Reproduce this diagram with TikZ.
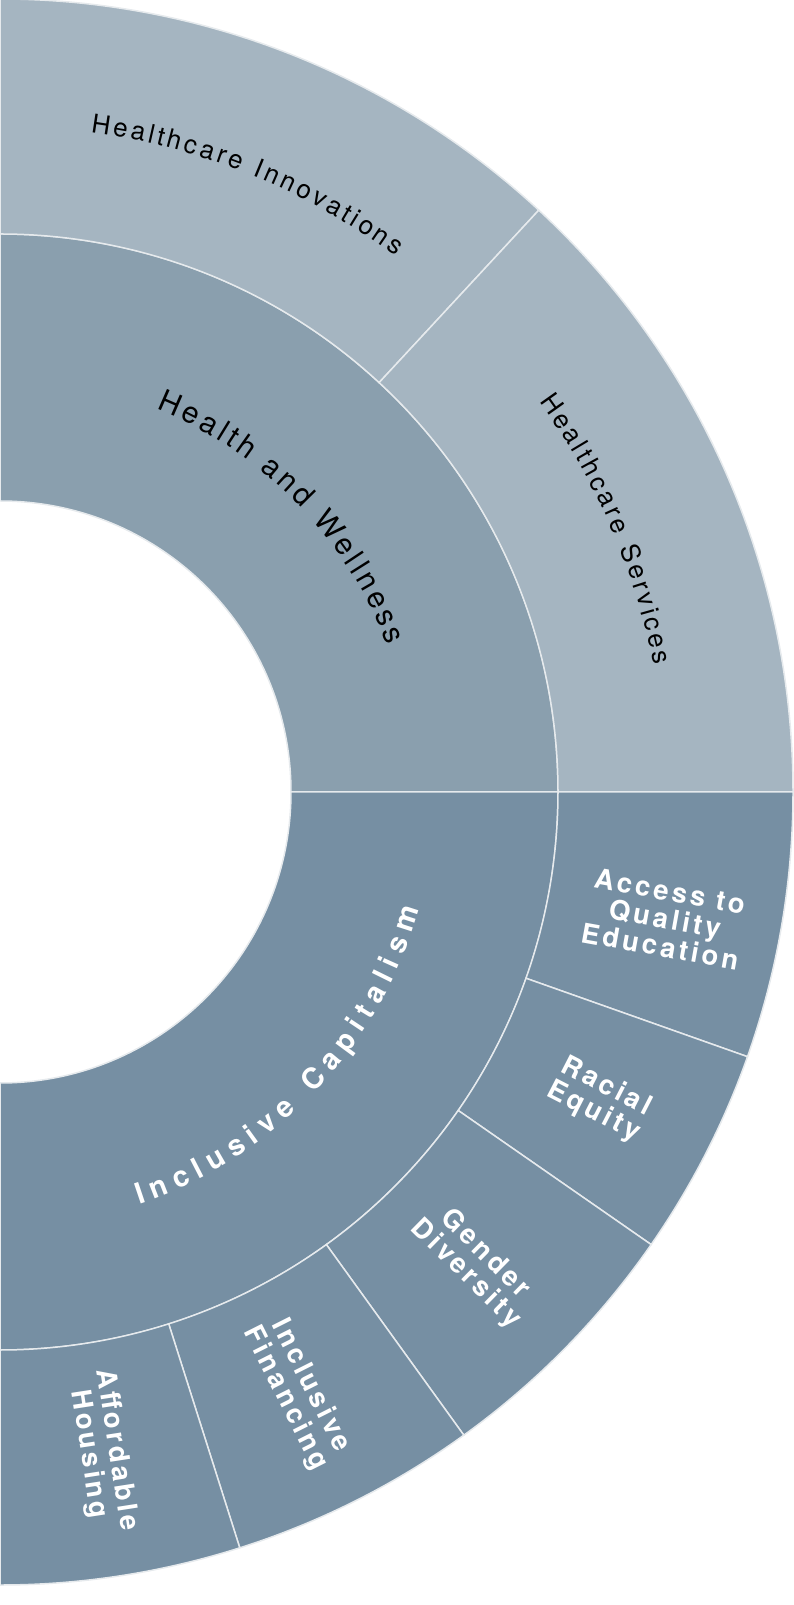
\documentclass[tikz,border=0pt]{standalone}
\usepackage{fontspec}
\newfontfamily\heros{TeX Gyre Heros}
\newfontfamily\herosls[LetterSpace=12]{TeX Gyre Heros}
\usetikzlibrary{decorations.text}

\definecolor{outerhw}{HTML}{A5B5C1}
\definecolor{midhw}{HTML}{8A9FAE}
\definecolor{incl}{HTML}{768FA3}
\definecolor{sepline}{HTML}{E6EAED}

% each character of a curved label is boxed alone, so the kern spaces the letters
\newcommand\outerlbl{\heros\fontsize{26}{30}\selectfont\kern3.2pt}
\newcommand\midlbl{\heros\fontsize{30}{34}\selectfont\kern3.6pt}
\newcommand\midlblb{\heros\bfseries\fontsize{29}{33}\selectfont\kern7.6pt}

% inner radius, outer radius, from angle, to angle, colour
\newcommand\ringpart[5]{%
  \filldraw[sector, fill=#5] (#3:#1) arc[start angle=#3, end angle=#4, radius=#1]
    -- (#4:#2) arc[start angle=#4, end angle=#3, radius=#2] -- cycle;}

\begin{document}
\begin{tikzpicture}[x=1pt, y=1pt,
    sector/.style={draw=sepline, line width=1.5pt},
    sublbl/.style={text=white, align=center, inner sep=0pt,
        font=\herosls\bfseries\fontsize{27.5}{28}\selectfont},
    arclbl/.style={decorate, decoration={text along path, text align=center, text color=#1}}
]
\useasboundingbox (0,-813) rectangle (794,792);

% Health and Wellness
\ringpart{291}{558}{0}{90}{midhw}
\ringpart{558}{793}{47.2}{90}{outerhw}
\ringpart{558}{793}{0}{47.2}{outerhw}

% Inclusive Capitalism
\ringpart{291}{558}{-90}{0}{incl}
\foreach \a/\b in {0/-19.5, -19.5/-34.8, -34.8/-54.2, -54.2/-72.4, -72.4/-90}
  \ringpart{558}{793}{\b}{\a}{incl};

% curved labels
\path[arclbl=black, decoration={text={|\outerlbl|Healthcare Innovations}}]
  (89:666) arc[start angle=89, end angle=47, radius=666];
\path[arclbl=black, decoration={text={|\outerlbl|Healthcare Services}}]
  (47.2:666) arc[start angle=47.2, end angle=0, radius=666];
\path[arclbl=black, decoration={text={|\midlbl|Health and Wellness}}]
  (89:414) arc[start angle=89, end angle=0, radius=414];
\path[arclbl=white, decoration={text={|\midlblb|Inclusive Capitalism}}]
  (-88:435) arc[start angle=-88, end angle=0, radius=435];

% radial labels
\node[sublbl, rotate=-10.2] (access) at (-10.8:677) {Access to\\Quality\\Education};
\node[sublbl, rotate=-27.15] (racial) at (-27.15:674) {Racial\\Equity};
\node[sublbl, rotate=-44.5] (gender) at (-44.8:670) {Gender\\Diversity};
\node[sublbl, rotate=-63.3] (financing) at (-63.6:670) {Inclusive\\Financing};
\node[sublbl, rotate=-81.2] (housing) at (-81.2:668) {Affordable\\Housing};
\end{tikzpicture}
\end{document}
